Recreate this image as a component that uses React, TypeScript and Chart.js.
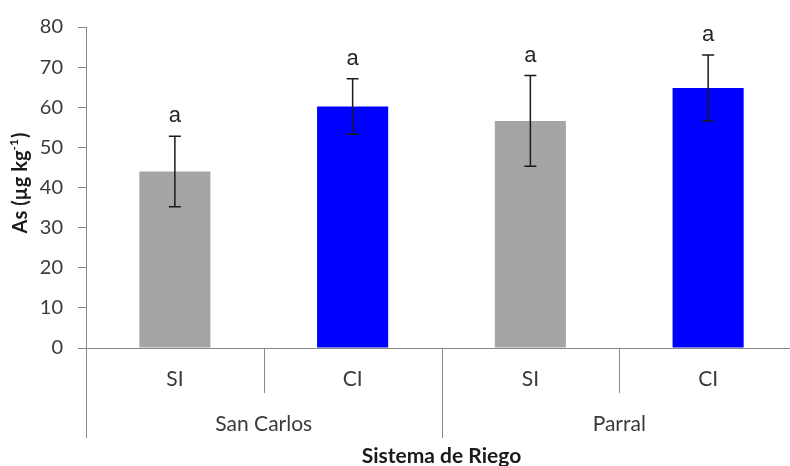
import React, { useEffect, useRef } from "react";
import { Chart, registerables } from "chart.js";

Chart.register(...registerables);

const categories = ["SI", "CI", "SI", "CI"];
const groups = ["San Carlos", "Parral"];
const values = [44, 60.2, 56.6, 64.8];
const errors = [8.8, 6.9, 11.3, 8.2];
const letters = ["a", "a", "a", "a"];
const barColors = ["#A5A5A5", "#0000FF", "#A5A5A5", "#0000FF"];
const yMin = 0;
const yMax = 80;
const yStep = 10;
const yTitleMain = "As (µg kg";
const yTitleSup = "-1";
const yTitleEnd = ")";
const xTitle = "Sistema de Riego";

const FONT = "Lato, 'Open Sans', sans-serif";
const AXIS_COLOR = "#878787";
const TEXT_COLOR = "#3a3a3a";

const overlayPlugin = {
  id: "overlay",
  afterDatasetsDraw(chart: any) {
    const ctx = chart.ctx;
    const y = chart.scales.y;
    const meta = chart.getDatasetMeta(0);
    ctx.save();
    ctx.strokeStyle = "#1a1a1a";
    ctx.lineWidth = 1.5;
    meta.data.forEach((bar: any, i: number) => {
      const x = bar.x;
      const yt = y.getPixelForValue(values[i] + errors[i]);
      const yb = y.getPixelForValue(values[i] - errors[i]);
      ctx.beginPath();
      ctx.moveTo(x, yt);
      ctx.lineTo(x, yb);
      ctx.moveTo(x - 6, yt);
      ctx.lineTo(x + 6, yt);
      ctx.moveTo(x - 6, yb);
      ctx.lineTo(x + 6, yb);
      ctx.stroke();
      ctx.fillStyle = "#262626";
      ctx.font = `22px 'Liberation Sans', Arial, sans-serif`;
      ctx.textAlign = "center";
      ctx.textBaseline = "alphabetic";
      ctx.fillText(letters[i], x, yt - 14);
    });
    ctx.restore();
  },
  afterDraw(chart: any) {
    const ctx = chart.ctx;
    const xs = chart.scales.x;
    const area = chart.chartArea;
    const n = categories.length;
    const catW = (area.right - area.left) / n;
    ctx.save();
    ctx.strokeStyle = AXIS_COLOR;
    ctx.lineWidth = 1;
    for (let i = 0; i <= n; i++) {
      const bx = Math.round(xs.getPixelForValue(0) - catW / 2 + i * catW) + 0.5;
      const isGroup = i % 2 === 0;
      ctx.beginPath();
      ctx.moveTo(bx, area.bottom);
      ctx.lineTo(bx, area.bottom + (isGroup ? 90 : 45));
      ctx.stroke();
    }
    ctx.fillStyle = TEXT_COLOR;
    ctx.font = `21px ${FONT}`;
    ctx.textAlign = "center";
    ctx.textBaseline = "middle";
    groups.forEach((g, gi) => {
      const gx = (xs.getPixelForValue(gi * 2) + xs.getPixelForValue(gi * 2 + 1)) / 2;
      ctx.fillText(g, gx, 424);
    });
    ctx.fillStyle = "#1a1a1a";
    ctx.font = `bold 21px ${FONT}`;
    ctx.textBaseline = "alphabetic";
    ctx.fillText(xTitle, (area.left + area.right) / 2, 463);
    // y title
    ctx.translate(27, 183);
    ctx.rotate(-Math.PI / 2);
    ctx.font = `bold 20px ${FONT}`;
    const w1 = ctx.measureText(yTitleMain).width;
    ctx.font = `bold 12px ${FONT}`;
    const w2 = ctx.measureText(yTitleSup).width;
    ctx.font = `bold 20px ${FONT}`;
    const w3 = ctx.measureText(yTitleEnd).width;
    const total = w1 + w2 + w3 + 1;
    let cx = -total / 2;
    ctx.textAlign = "left";
    ctx.textBaseline = "alphabetic";
    ctx.fillText(yTitleMain, cx, 0);
    cx += w1;
    ctx.font = `bold 12px ${FONT}`;
    ctx.fillText(yTitleSup, cx, -9);
    cx += w2 + 1;
    ctx.font = `bold 20px ${FONT}`;
    ctx.fillText(yTitleEnd, cx, 0);
    ctx.restore();
  },
};

export default function App() {
  const ref = useRef<HTMLCanvasElement | null>(null);
  useEffect(() => {
    document.body.style.margin = "0";
    document.body.style.overflow = "hidden";
    if (!ref.current) return;
    const chart = new Chart(ref.current, {
      type: "bar",
      data: {
        labels: categories,
        datasets: [
          {
            data: values,
            backgroundColor: barColors,
            borderWidth: 0,
            categoryPercentage: 1,
            barPercentage: 0.4,
          },
        ],
      },
      options: {
        animation: false,
        responsive: true,
        maintainAspectRatio: false,
        layout: { padding: { top: 21, right: 3, bottom: 0, left: 0 } },
        plugins: {
          legend: { display: false },
          tooltip: { enabled: false },
        },
        scales: {
          x: {
            offset: true,
            grid: { display: false, drawTicks: false },
            border: { display: true, color: AXIS_COLOR, width: 1 },
            ticks: {
              color: TEXT_COLOR,
              font: { family: FONT, size: 21 },
              padding: 19,
              maxRotation: 0,
            },
            afterFit: (s: any) => {
              s.height = 118;
            },
          },
          y: {
            min: yMin,
            max: yMax,
            grid: {
              display: true,
              drawOnChartArea: false,
              drawTicks: true,
              tickLength: 8,
              color: AXIS_COLOR,
            },
            border: { display: true, color: AXIS_COLOR, width: 1 },
            ticks: {
              stepSize: yStep,
              color: TEXT_COLOR,
              font: { family: FONT, size: 20 },
              padding: 15,
            },
            afterFit: (s: any) => {
              s.width = 86;
            },
          },
        },
      },
      plugins: [overlayPlugin],
    });
    return () => chart.destroy();
  }, []);
  return (
    <div style={{ position: "fixed", left: 0, top: 0, width: 790, height: 466, overflow: "hidden", background: "#fff" }}>
      <div style={{ position: "relative", width: 800, height: 466 }}>
        <canvas ref={ref} />
      </div>
    </div>
  );
}
